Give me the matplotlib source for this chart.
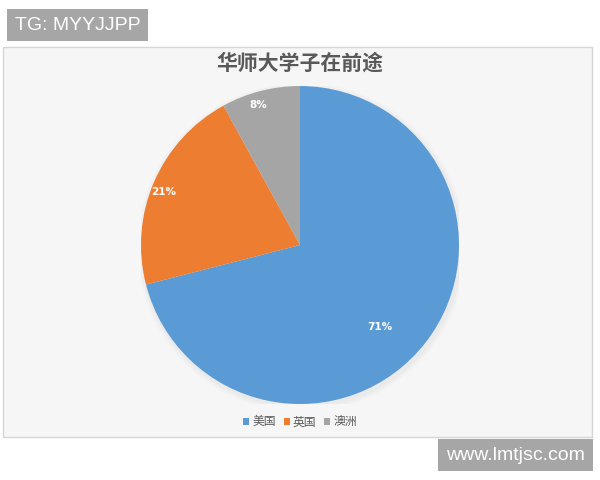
import numpy as np
import matplotlib
matplotlib.use("Agg")
import matplotlib.pyplot as plt
from matplotlib.patches import Rectangle, Circle

plt.rcParams['font.family'] = ['Noto Sans CJK SC', 'DejaVu Sans']

# data
labels = ["美国", "英国", "澳洲"]
values = [71, 21, 8]
colors = ["#5B9BD5", "#ED7D31", "#A5A5A5"]
title = "华师大学子在前途"

fig = plt.figure(figsize=(6, 4.8), dpi=100)
fig.patch.set_facecolor("white")

# chart frame in a background axes
bg = fig.add_axes([0, 0, 1, 1], zorder=-5)
bg.set_xlim(0, 600)
bg.set_ylim(480, 0)
bg.axis("off")
bg.add_patch(Rectangle((3, 47), 589, 390, facecolor="#f6f6f6",
                       edgecolor="#d6d6d6", linewidth=1.0))

ax = fig.add_axes([0.235, 0.1583, 0.53, 0.6625])

# soft shadow
for i, a in enumerate([0.05, 0.035, 0.02]):
    ax.add_patch(Circle((0.01, -0.015), 1.0 + 0.012 * (i + 1),
                        color="#888888", alpha=a, lw=0, zorder=0))

wedges, _ = ax.pie(values, colors=colors, startangle=90, counterclock=False,
                   radius=1.0, wedgeprops=dict(linewidth=0))
ax.set_xlim(-1, 1)
ax.set_ylim(-1, 1)
ax.set_aspect("equal")
ax.axis("off")

# percent labels
dist = [0.72, 0.92, 0.92]
offs = [-8, 2, 2]
for w, v, d, o in zip(wedges, values, dist, offs):
    ang = np.deg2rad((w.theta1 + w.theta2) / 2 + o)
    ax.text(d * np.cos(ang), d * np.sin(ang), f"{v}%", color="white",
            fontsize=7.5, fontweight="bold", ha="center", va="center",
            family="DejaVu Sans")

fig.text(0.5, 1 - 63 / 480, title, ha="center", va="center", fontsize=15,
         fontweight="bold", color="#595959")

leg = fig.legend(wedges, labels, loc="center", bbox_to_anchor=(0.5, 1 - 422 / 480),
                 ncol=3, frameon=False, fontsize=8.5, handlelength=0.5,
                 handleheight=0.5, handletextpad=0.25, columnspacing=0.7,
                 labelcolor="#595959")

# watermark boxes
fig.text(15 / 600, 1 - 25 / 480, "TG: MYYJJPP", ha="left", va="center",
         fontsize=14, color="white", family="Liberation Sans",
         bbox=dict(boxstyle="square,pad=0.4", facecolor="#a6a6a6", edgecolor="none"))
fig.text(446 / 600, 1 - 455 / 480, "www.lmtjsc.com", ha="left", va="center",
         fontsize=14, color="white", family="Liberation Sans",
         bbox=dict(boxstyle="square,pad=0.4", facecolor="#a6a6a6", edgecolor="none"))

fig.savefig("out.png", dpi=100)
